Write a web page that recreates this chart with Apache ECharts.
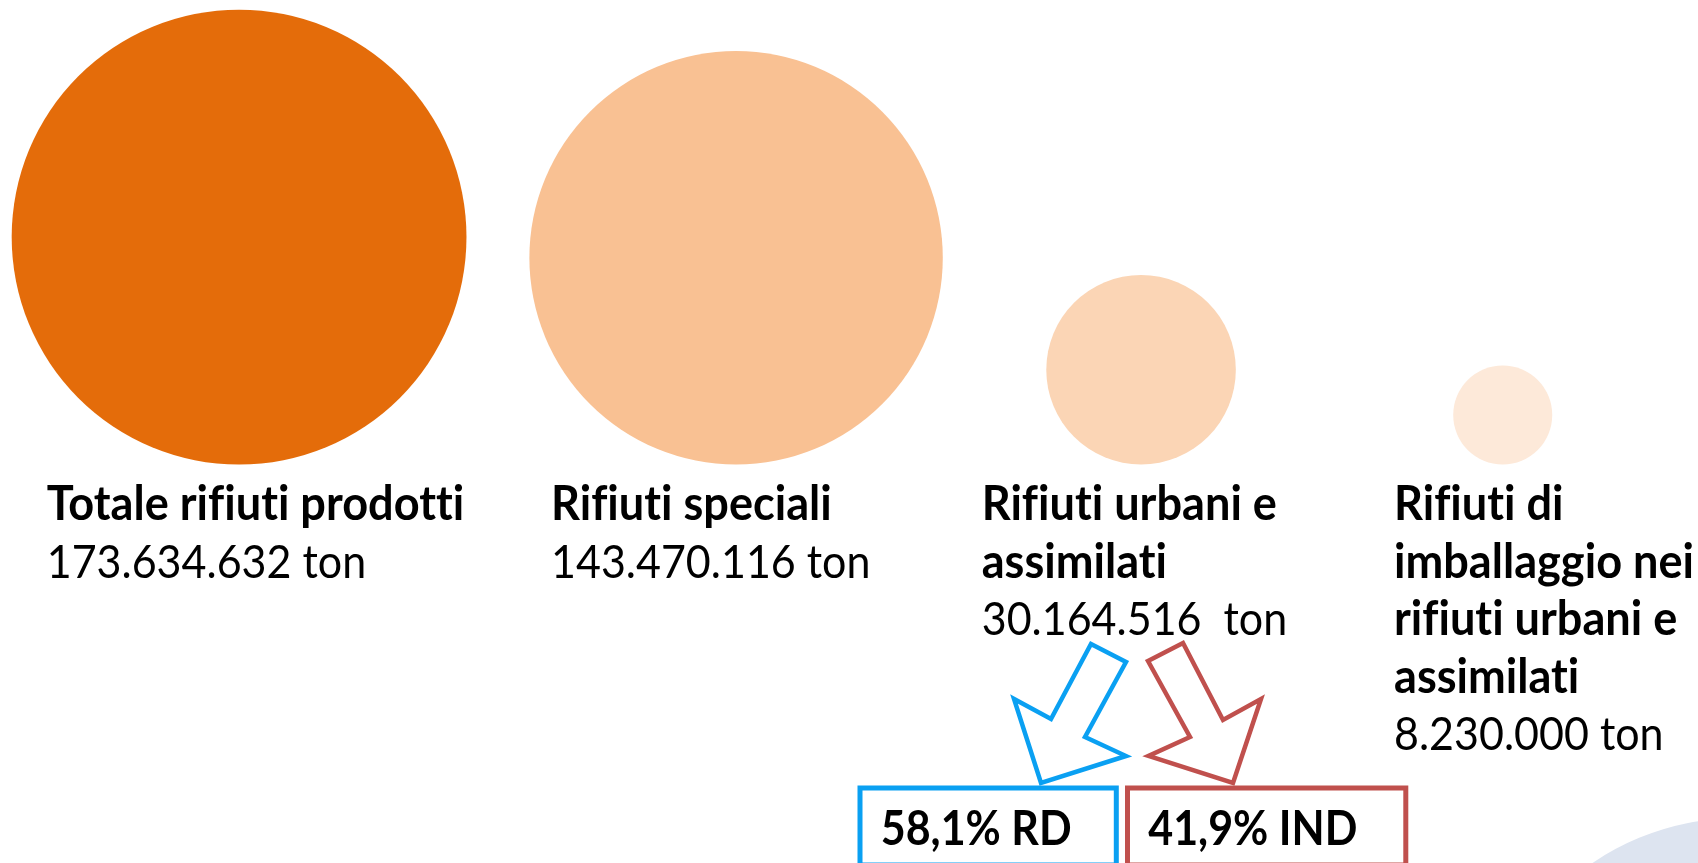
<!DOCTYPE html>
<html>
<head>
<meta charset="utf-8">
<title>Rifiuti prodotti</title>
<script src="https://cdn.jsdelivr.net/npm/echarts@6/dist/echarts.min.js"></script>
<style>
  html, body { margin: 0; padding: 0; background: #fff; }
  #main { width: 1698px; height: 863px; }
</style>
</head>
<body>
<div id="main"></div>
<script>
// dati
const categories = ['Totale rifiuti prodotti', 'Rifiuti speciali', 'Rifiuti urbani e\nassimilati', 'Rifiuti di\nimballaggio nei\nrifiuti urbani e\nassimilati'];
const tonnes = [173634632, 143470116, 30164516, 8230000];
const bubblePos = [14.08, 43.35, 67.2, 88.5];
const splitShares = [58.1, 41.9];
const splitNames = ['RD', 'IND'];

// stile
const bubbleColors = ['#E46C0A', '#F9C193', '#FBD5B5', '#FDE9D9'];
const labelLeft = [46.7, 551, 981.7, 1394];
const unitSep = [' ', ' ', '  ', ' '];
const maxDiam = 454.8;
const baseY = 464.5;
const lineH = 57.6;
const textTop = 476;
const fontSz = 47;
const sxTitle = 0.96;
const sxNum = 0.915;

function fmt(n) {
    return String(n).replace(/\B(?=(\d{3})+(?!\d))/g, '.');
}

// niente legature (fi, ti) come nell'originale
function noLig(s) {
    return s.replace(/([ft])(?=[a-z])/g, '$1\u200C');
}

function txt(str, x, y, bold, sx) {
    return {
        type: 'text', x: x, y: y, scaleX: sx, silent: true,
        style: {
            text: noLig(str), x: 0, y: 0,
            fontFamily: 'Lato', fontSize: fontSz, fontWeight: bold ? 'bold' : 'normal',
            lineHeight: lineH, fill: '#000',
            textAlign: 'left', textVerticalAlign: 'top', align: 'left', verticalAlign: 'top'
        }
    };
}

const maxV = Math.max.apply(null, tonnes);
const bubbleData = tonnes.map(function (v, i) {
    const d = maxDiam * Math.sqrt(v / maxV);
    return {
        value: [bubblePos[i], 0],
        symbolSize: d,
        symbolOffset: [0, -d / 2],
        itemStyle: { color: bubbleColors[i], opacity: 1 }
    };
});

const graphics = [];
// cerchio decorativo in basso a destra
graphics.push({
    type: 'circle', silent: true,
    shape: { cx: 1739, cy: 1079, r: 261 },
    style: { fill: '#DDE4F0' }
});

categories.forEach(function (name, i) {
    const nLines = name.split('\n').length;
    graphics.push(txt(name, labelLeft[i], textTop, true, sxTitle));
    graphics.push(txt(fmt(tonnes[i]) + unitSep[i] + 'ton', labelLeft[i], textTop + nLines * lineH, false, sxNum));
});

// frecce e riquadri RD / IND
const splitColors = ['#0AA0F2', '#C0504D'];
const arrows = [
    [[1091, 644], [1126, 662], [1085, 737], [1126, 756], [1041, 783], [1014, 699], [1051, 719]],
    [[1148, 661], [1183, 643], [1223, 720], [1261, 699], [1233, 783], [1148.5, 756], [1190, 737]]
];
const boxes = [[860, 788, 256.3, 77], [1127.5, 788, 278.3, 77]];
splitShares.forEach(function (s, i) {
    graphics.push({
        type: 'polygon', silent: true,
        shape: { points: arrows[i] },
        style: { fill: '#fff', stroke: splitColors[i], lineWidth: 4.5, lineJoin: 'miter' }
    });
    graphics.push({
        type: 'rect', silent: true,
        shape: { x: boxes[i][0], y: boxes[i][1], width: boxes[i][2], height: boxes[i][3] },
        style: { fill: '#fff', stroke: splitColors[i], lineWidth: 5 }
    });
    graphics.push(txt(String(s).replace('.', ',') + '% ' + splitNames[i], boxes[i][0] + 20.7, 829.8 - lineH / 2, true, sxNum));
});

const chart = echarts.init(document.getElementById('main'));
chart.setOption({
    animation: false,
    backgroundColor: '#fff',
    grid: { left: 0, right: 0, top: 0, bottom: 863 - baseY },
    xAxis: { type: 'value', min: 0, max: 100, show: false },
    yAxis: { type: 'value', min: 0, max: 1, show: false },
    series: [{
        type: 'scatter',
        symbol: 'circle',
        data: bubbleData,
        silent: true
    }],
    graphic: graphics
});
</script>
</body>
</html>
